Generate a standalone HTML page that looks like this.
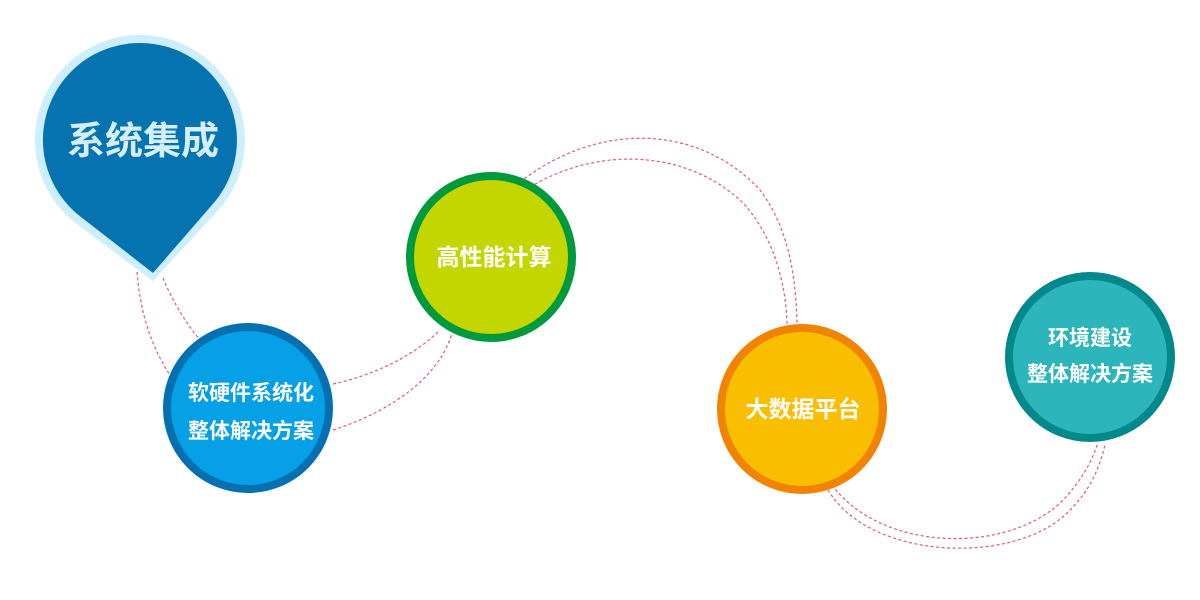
<!DOCTYPE html>
<html><head><meta charset="utf-8"><style>
html,body{margin:0;padding:0;background:#fff;}
svg{display:block}
text{font-family:"Liberation Sans","Noto Sans CJK SC",sans-serif;fill:#fff;}
</style></head><body>
<svg width="1200" height="600" viewBox="0 0 1200 600" xmlns="http://www.w3.org/2000/svg">
<g fill="none" stroke="#e8557a" stroke-width="1.2" stroke-dasharray="3,2.5">
  <path d="M137 272 C140 310 150 345 170 375"/>
  <path d="M163 278 C172 300 185 322 200 340"/>
  <path d="M333 384 C375 375 415 355 440 330"/>
  <path d="M333 430 C395 410 440 375 452 333"/>
  <path d="M520 182 C600 120 700 125 760 190 C790 230 796 280 797 324"/>
  <path d="M530 187 C600 145 690 150 745 205 C775 240 786 285 787 324"/>
  <path d="M828 490 C870 560 1010 565 1065 515 C1092 490 1100 465 1105 445"/>
  <path d="M832 485 C880 550 1000 555 1058 505 C1082 482 1092 460 1098 443"/>
</g>
<path d="M77.7 224.5 A105 105 0 1 1 216.8 211.6 L153 281 Z" fill="#cdeefc"/>
<path d="M81 217 A97 97 0 1 1 212.8 204 L153 273 Z" fill="#0473b0"/>
<text x="143" y="154" font-size="38" font-weight="bold" text-anchor="middle" style="fill:#d4eefa">系统集成</text>

<circle cx="248" cy="408" r="81" fill="#05a0e6" stroke="#0570b0" stroke-width="8"/>
<text x="251" y="400" font-size="21" font-weight="bold" text-anchor="middle">软硬件系统化</text>
<text x="251" y="438" font-size="21" font-weight="bold" text-anchor="middle">整体解决方案</text>

<circle cx="491" cy="257" r="81" fill="#c3d600" stroke="#009a3e" stroke-width="8"/>
<text x="494" y="265" font-size="23" font-weight="bold" text-anchor="middle">高性能计算</text>

<circle cx="802" cy="409" r="81" fill="#f9be00" stroke="#f08300" stroke-width="8"/>
<text x="803" y="417" font-size="23" font-weight="bold" text-anchor="middle">大数据平台</text>

<circle cx="1090" cy="357" r="81" fill="#2cb5bb" stroke="#00888a" stroke-width="8"/>
<text x="1090" y="345" font-size="21" font-weight="bold" text-anchor="middle">环境建设</text>
<text x="1090" y="381" font-size="21" font-weight="bold" text-anchor="middle">整体解决方案</text>
</svg>
</body></html>
